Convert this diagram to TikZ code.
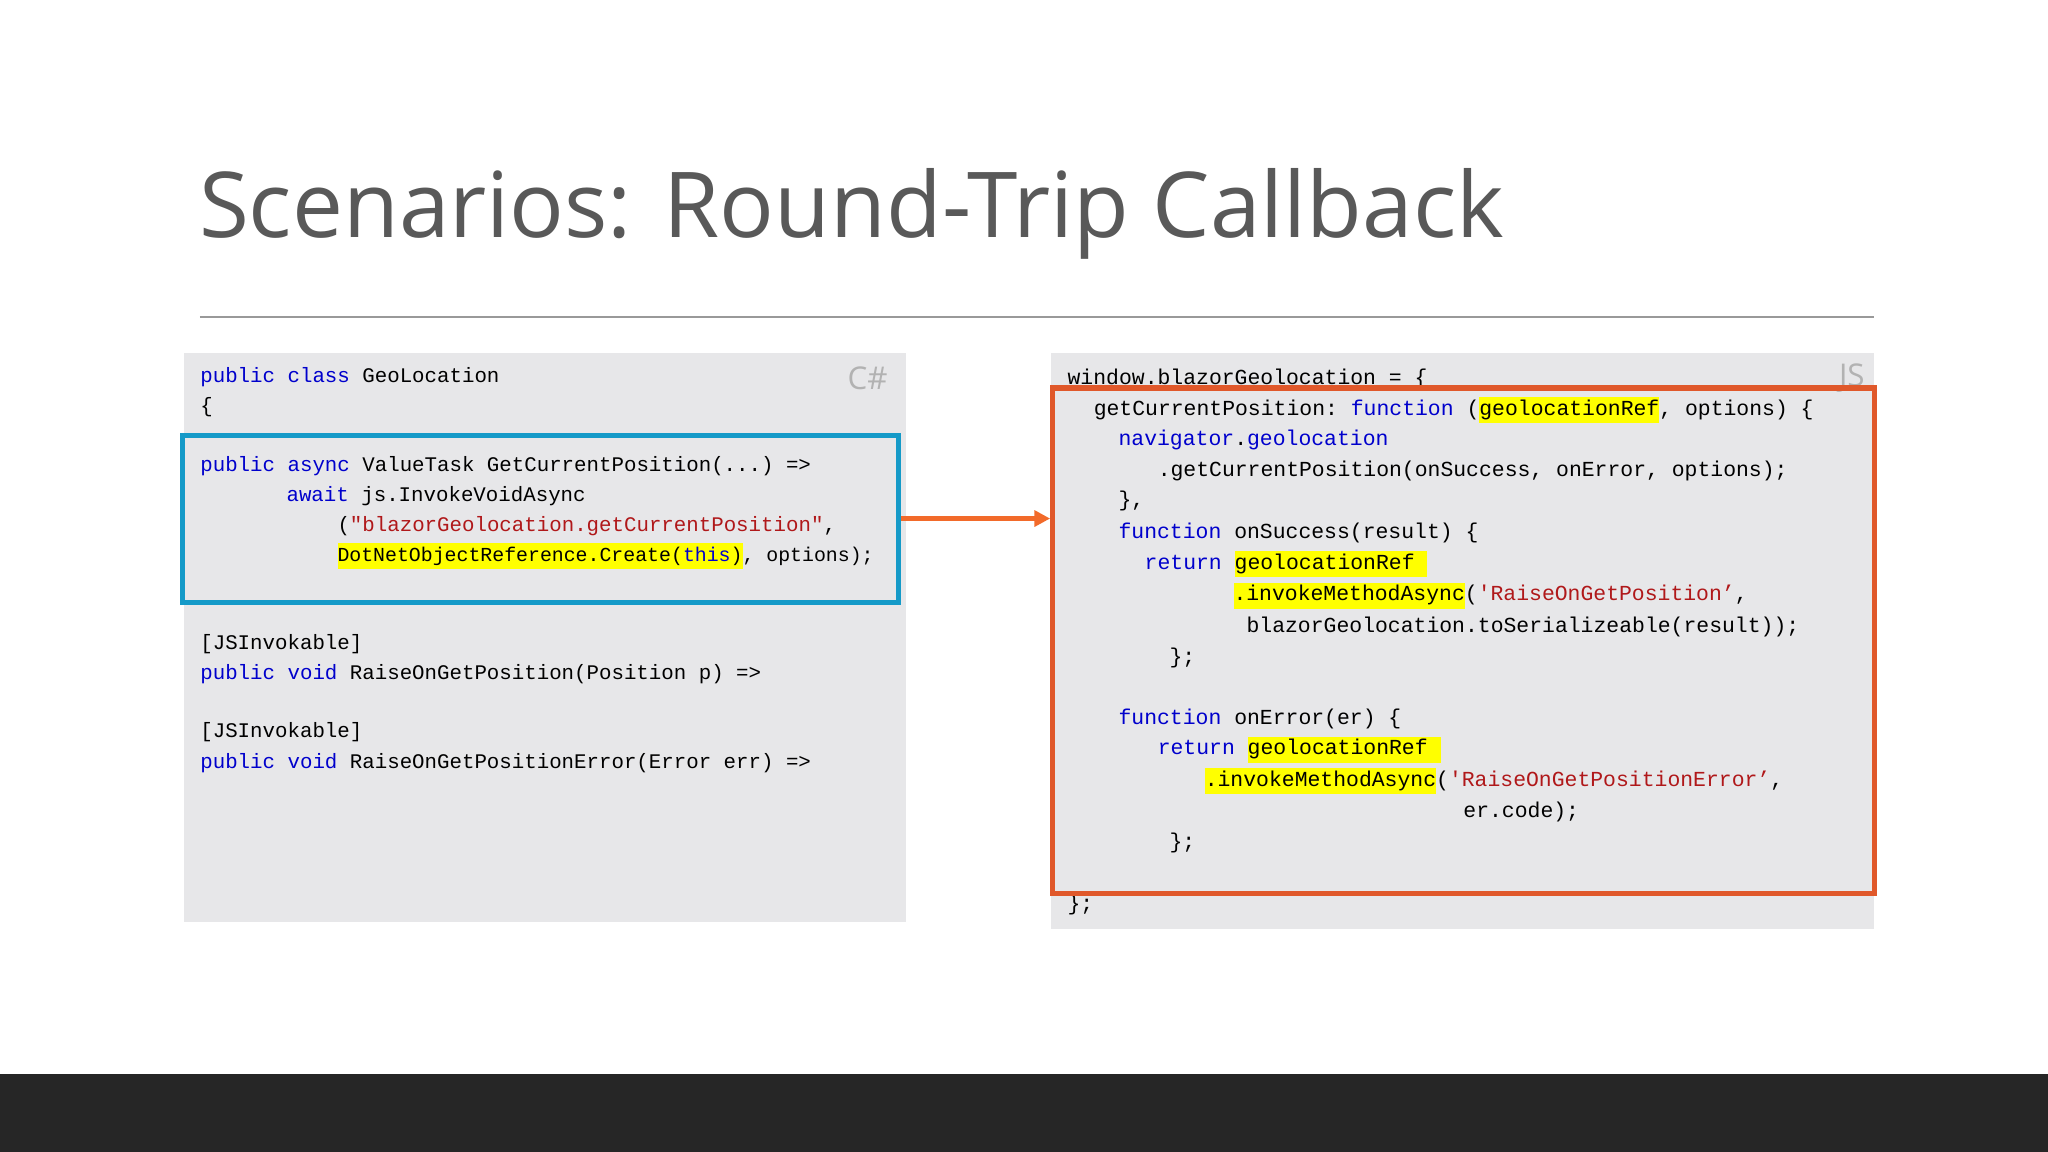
\documentclass[tikz,border=0pt]{standalone}
\usepackage{fontspec}
\setmainfont{Open Sans}
\setmonofont{Liberation Mono}
\usetikzlibrary{arrows.meta}
\definecolor{kw}{HTML}{0000CC}
\definecolor{st}{HTML}{B0181A}
\definecolor{hly}{HTML}{FFFF00}
\definecolor{panel}{HTML}{E7E7E9}
\definecolor{bluebox}{HTML}{159AC8}
\definecolor{orangebox}{HTML}{E0582A}
\definecolor{arrowc}{HTML}{F26A2A}
\definecolor{titlec}{HTML}{595959}
\newcommand\kwd[1]{\textcolor{kw}{#1}}
\newcommand\str[1]{\textcolor{st}{#1}}
\newcommand\hlt[1]{{\setlength\fboxsep{0pt}\colorbox{hly}{\strut#1}}}
\tikzset{code/.style={anchor=base west,inner sep=0pt,font=\ttfamily\fontsize{8.2}{10}\selectfont,text=black},
lcode/.style={code,font=\ttfamily\fontsize{7.95}{10}\selectfont},
lang/.style={anchor=base east,inner sep=0pt,font=\fontsize{12}{14}\selectfont,text=gray!60}}
\begin{document}
\begin{tikzpicture}[x=0.5pt,y=-0.5pt]
\useasboundingbox[fill=white] (0,0) rectangle (1568,882);
\fill[black!85] (0,822) rectangle (1568,882);
\node[anchor=base west,inner sep=0pt,text=titlec,font=\fontsize{34.8}{40}\selectfont] (title) at (152,182) {Scenarios: Round-Trip Callback};
\draw[gray!80,line width=0.8pt] (153,243) -- (1435,243);
\fill[panel] (141,270) rectangle (694,706);
\fill[panel] (805,270) rectangle (1435,711);
\node[lang] (cs) at (680,298) {C\#};
\node[lang] (js) at (1428,296) {JS};
% left code
\node[lcode] (a1) at (153,293) {\kwd{public class} GeoLocation};
\node[lcode] (a2) at (153,316) {\{};
\node[lcode] (a3) at (153,361) {\kwd{public async} ValueTask GetCurrentPosition(...) =>};
\node[lcode] (a4) at (219,384) {\kwd{await} js.InvokeVoidAsync};
\node[lcode] (a5) at (258,407) {(\str{"blazorGeolocation.getCurrentPosition"},};
\node[lcode,font=\ttfamily\fontsize{7.6}{10}\selectfont] (a6) at (258,430) {\hlt{DotNetObjectReference.Create(\kwd{this})}, options);};
\node[lcode] (a7) at (153,497) {[JSInvokable]};
\node[lcode] (a8) at (153,520) {\kwd{public void} RaiseOnGetPosition(Position p) =>};
\node[lcode] (a9) at (153,565) {[JSInvokable]};
\node[lcode] (a10) at (153,588) {\kwd{public void} RaiseOnGetPositionError(Error err) =>};
% right code
\node[code] (b1) at (817,294) {window.blazorGeolocation = \{};
\node[code] (b2) at (837,318) {getCurrentPosition: \kwd{function} (\hlt{geolocationRef}, options) \{};
\node[code] (b3) at (856,341) {\kwd{navigator}.\kwd{geolocation}};
\node[code] (b4) at (886,365) {.getCurrentPosition(onSuccess, onError, options);};
\node[code] (b5) at (856,388) {\},};
\node[code] (b6) at (856,412) {\kwd{function} onSuccess(result) \{};
\node[code] (b7) at (876,436) {\kwd{return} \hlt{geolocationRef }};
\node[code] (b8) at (944,460) {\hlt{.invokeMethodAsync}(\str{'RaiseOnGetPosition’},};
\node[code] (b9) at (954,484) {blazorGeolocation.toSerializeable(result));};
\node[code] (b10) at (895,508) {\};};
\node[code] (b11) at (856,555) {\kwd{function} onError(er) \{};
\node[code] (b12) at (886,578) {\kwd{return} \hlt{geolocationRef }};
\node[code] (b13) at (922,602) {\hlt{.invokeMethodAsync}(\str{'RaiseOnGetPositionError’},};
\node[code] (b14) at (1120,626) {er.code);};
\node[code] (b15) at (895,650) {\};};
\node[code] (b16) at (817,697) {\};};
% boxes
\node[draw=bluebox,line width=2pt,minimum width=274pt,minimum height=64pt,inner sep=0pt] (blue) at (414,397.5) {};
\node[draw=orangebox,line width=2pt,minimum width=314.5pt,minimum height=193.5pt,inner sep=0pt] (orange) at (1120.5,490.5) {};
\draw[arrowc,line width=1.6pt,-{Triangle[length=6pt,width=6pt]}] (blue.east|-0,397) -- (orange.west|-0,397);
\end{tikzpicture}
\end{document}
